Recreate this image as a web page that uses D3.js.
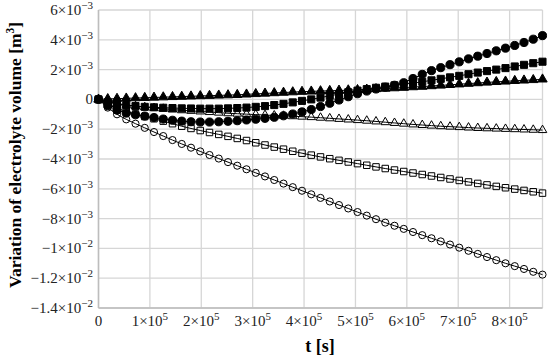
<!DOCTYPE html>
<html><head><meta charset="utf-8">
<script src="https://cdn.jsdelivr.net/npm/d3@7"></script>
<style>body{margin:0;background:#fff}svg{display:block}text{font-family:"Liberation Serif","Times New Roman",serif}</style>
</head><body><svg id="c" width="550" height="361"></svg>
<script>
// time (s)
const timeS = [0,18000,36000,54000,72000,90000,108000,126000,144000,162000,180000,198000,216000,234000,252000,270000,288000,306000,324000,342000,360000,378000,396000,414000,432000,450000,468000,486000,504000,522000,540000,558000,576000,594000,612000,630000,648000,666000,684000,702000,720000,738000,756000,774000,792000,810000,828000,846000,864000];
// volume variation, units of 1e-3 m^3
const filledCircle = [0,-0.42,-0.72,-0.92,-1.03,-1.12,-1.22,-1.32,-1.4,-1.46,-1.5,-1.52,-1.52,-1.5,-1.47,-1.43,-1.38,-1.33,-1.27,-1.2,-1.1,-0.98,-0.84,-0.68,-0.48,-0.26,-0.04,0.18,0.38,0.56,0.7,0.82,0.95,1.12,1.4,1.68,1.93,2.13,2.33,2.52,2.72,2.9,3.08,3.26,3.44,3.62,3.82,4.04,4.28];
const filledSquare = [0,-0.2,-0.3,-0.38,-0.45,-0.5,-0.53,-0.56,-0.58,-0.6,-0.61,-0.62,-0.62,-0.62,-0.6,-0.58,-0.55,-0.5,-0.45,-0.38,-0.3,-0.2,-0.1,0.0,0.12,0.24,0.36,0.48,0.59,0.69,0.78,0.86,0.94,1.02,1.1,1.18,1.28,1.38,1.48,1.58,1.69,1.8,1.9,2.0,2.1,2.21,2.32,2.43,2.53];
const filledTriangle = [0,0.03,0.05,0.07,0.09,0.11,0.13,0.15,0.17,0.19,0.21,0.23,0.25,0.27,0.29,0.31,0.34,0.37,0.4,0.43,0.46,0.49,0.52,0.54,0.56,0.58,0.6,0.62,0.64,0.67,0.7,0.73,0.76,0.79,0.83,0.86,0.9,0.94,0.98,1.02,1.06,1.1,1.14,1.18,1.21,1.25,1.28,1.31,1.35];
const openTriangle = [0,-0.15,-0.27,-0.37,-0.45,-0.52,-0.58,-0.63,-0.68,-0.73,-0.77,-0.81,-0.85,-0.89,-0.93,-0.96,-0.99,-1.02,-1.05,-1.08,-1.1,-1.13,-1.16,-1.19,-1.23,-1.27,-1.31,-1.35,-1.39,-1.43,-1.48,-1.53,-1.58,-1.63,-1.68,-1.72,-1.76,-1.8,-1.83,-1.86,-1.89,-1.92,-1.94,-1.96,-1.98,-2.0,-2.02,-2.04,-2.06];
const openSquare = [0,-0.35,-0.6,-0.8,-0.98,-1.15,-1.3,-1.46,-1.63,-1.8,-1.95,-2.09,-2.22,-2.35,-2.48,-2.62,-2.76,-2.91,-3.06,-3.2,-3.34,-3.48,-3.61,-3.74,-3.86,-3.98,-4.09,-4.2,-4.31,-4.42,-4.53,-4.64,-4.74,-4.84,-4.94,-5.04,-5.14,-5.24,-5.34,-5.44,-5.54,-5.64,-5.74,-5.84,-5.93,-6.02,-6.11,-6.2,-6.29];
const openCircle = [0,-0.55,-1.0,-1.34,-1.63,-1.91,-2.19,-2.46,-2.73,-2.99,-3.24,-3.49,-3.73,-3.97,-4.21,-4.45,-4.69,-4.93,-5.17,-5.41,-5.65,-5.89,-6.13,-6.37,-6.61,-6.85,-7.09,-7.32,-7.56,-7.8,-8.04,-8.27,-8.48,-8.69,-8.9,-9.11,-9.32,-9.53,-9.74,-9.95,-10.16,-10.37,-10.58,-10.79,-11.0,-11.19,-11.38,-11.57,-11.76];

const xTicks = [0,100000,200000,300000,400000,500000,600000,700000,800000];
const xTickLabels = [["0",""],["1×10","5"],["2×10","5"],["3×10","5"],["4×10","5"],["5×10","5"],["6×10","5"],["7×10","5"],["8×10","5"]];
const yTicks = [6,4,2,0,-2,-4,-6,-8,-10,-12,-14];
const yTickLabels = [["6×10","−3"],["4×10","−3"],["2×10","−3"],["0",""],["−2×10","−3"],["−4×10","−3"],["−6×10","−3"],["−8×10","−3"],["−1×10","−2"],["−1.2×10","−2"],["−1.4×10","−2"]];

const svg = d3.select("#c");
const x = d3.scaleLinear().domain([0,864000]).range([98.5,542.5]);
const y = d3.scaleLinear().domain([-14,6]).range([308,10]);

// grid
svg.append("g").selectAll("line").data(yTicks).join("line")
  .attr("x1",x(0)).attr("x2",x(864000)).attr("y1",d=>y(d)).attr("y2",d=>y(d))
  .attr("stroke","#d6d6d6").attr("stroke-width",1.3);
svg.append("g").selectAll("line").data(xTicks.concat([864000])).join("line")
  .attr("x1",d=>x(d)).attr("x2",d=>x(d)).attr("y1",y(6)).attr("y2",y(-14))
  .attr("stroke","#d6d6d6").attr("stroke-width",1.3);
// axes lines
svg.append("line").attr("x1",x(0)).attr("x2",x(0)).attr("y1",y(6)).attr("y2",y(-14)).attr("stroke","#bdbdbd").attr("stroke-width",1.5);
svg.append("line").attr("x1",x(0)).attr("x2",x(864000)).attr("y1",y(-14)).attr("y2",y(-14)).attr("stroke","#bdbdbd").attr("stroke-width",1.5);

// tick labels
const yl = svg.append("g").selectAll("text").data(yTicks).join("text")
  .attr("x",93).attr("y",d=>y(d)+5).attr("text-anchor","end").attr("font-size",15).attr("fill","#222");
yl.each(function(d,i){
  const t=d3.select(this), lab=yTickLabels[i];
  t.append("tspan").text(lab[0]);
  if(lab[1]) t.append("tspan").attr("dy",-6).attr("font-size",11).text(lab[1]);
});
const xl = svg.append("g").selectAll("text").data(xTicks).join("text")
  .attr("x",d=>x(d)).attr("y",326).attr("text-anchor","middle").attr("font-size",15).attr("fill","#222");
xl.each(function(d,i){
  const t=d3.select(this), lab=xTickLabels[i];
  t.append("tspan").text(lab[0]);
  if(lab[1]) t.append("tspan").attr("dy",-6).attr("font-size",11).text(lab[1]);
});

// titles
svg.append("text").attr("x",320).attr("y",352).attr("text-anchor","middle").attr("font-size",18).attr("font-weight","bold").text("t [s]");
const yt = svg.append("text").attr("transform","translate(21,155) rotate(-90)").attr("text-anchor","middle").attr("font-size",17.5).attr("font-weight","bold");
yt.append("tspan").text("Variation of electrolyte volume [m");
yt.append("tspan").attr("dy",-7).attr("font-size",11.5).text("3");
yt.append("tspan").attr("dy",7).text("]");

const series = [
  {v:openCircle, sym:d3.symbolCircle, size:40, fill:"none"},
  {v:openSquare, sym:d3.symbolSquare, size:42, fill:"none"},
  {v:openTriangle, sym:d3.symbolTriangle, size:32, fill:"none"},
  {v:filledTriangle, sym:d3.symbolTriangle, size:38, fill:"#000"},
  {v:filledSquare, sym:d3.symbolSquare, size:50, fill:"#000"},
  {v:filledCircle, sym:d3.symbolCircle, size:52, fill:"#000"},
];
const line = d3.line().x((d,i)=>x(timeS[i])).y(d=>y(d));
series.forEach(s=>{
  svg.append("path").attr("d",line(s.v)).attr("fill","none").attr("stroke","#000").attr("stroke-width",1);
});
series.forEach(s=>{
  svg.append("g").selectAll("path").data(s.v).join("path")
    .attr("transform",(d,i)=>`translate(${x(timeS[i])},${y(d)})`)
    .attr("d",d3.symbol().type(s.sym).size(s.size))
    .attr("fill",s.fill).attr("stroke","#000").attr("stroke-width",1);
});
</script></body></html>
